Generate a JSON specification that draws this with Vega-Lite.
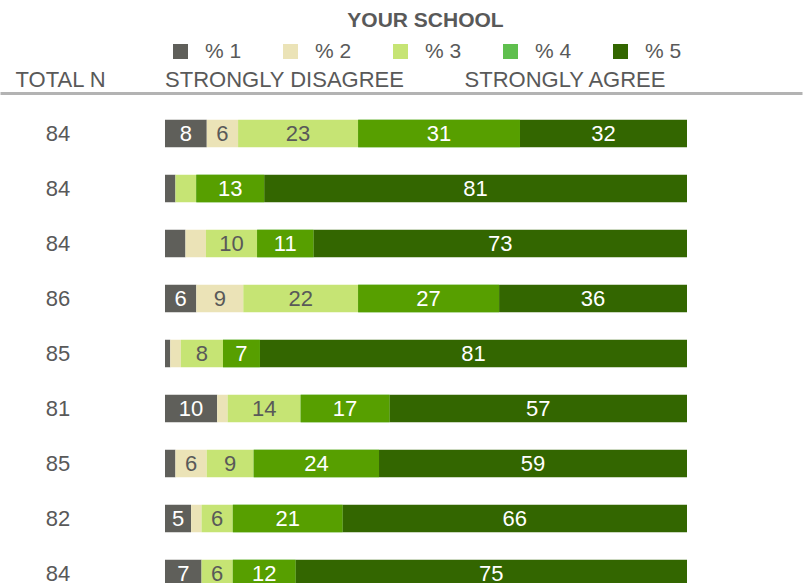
{
  "$schema": "https://vega.github.io/schema/vega-lite/v6.json",
  "width": 802,
  "height": 490,
  "autosize": {"type": "none"},
  "padding": {"top": 93, "left": 0, "right": 2, "bottom": 0},
  "config": {"font": "Liberation Sans", "view": {"stroke": null}},
  "title": {"text": "YOUR SCHOOL", "fontSize": 21, "fontWeight": "bold", "color": "#595959", "font": "Liberation Sans", "anchor": "middle", "frame": "group", "dx": 24.5, "offset": 10},
  "data": {"values": [
    {"row": 1, "n": 84, "level": "% 1", "pct": 8}, {"row": 1, "n": 84, "level": "% 2", "pct": 6}, {"row": 1, "n": 84, "level": "% 3", "pct": 23}, {"row": 1, "n": 84, "level": "% 4", "pct": 31}, {"row": 1, "n": 84, "level": "% 5", "pct": 32},
    {"row": 2, "n": 84, "level": "% 1", "pct": 2}, {"row": 2, "n": 84, "level": "% 2", "pct": 0}, {"row": 2, "n": 84, "level": "% 3", "pct": 4}, {"row": 2, "n": 84, "level": "% 4", "pct": 13}, {"row": 2, "n": 84, "level": "% 5", "pct": 81},
    {"row": 3, "n": 84, "level": "% 1", "pct": 4}, {"row": 3, "n": 84, "level": "% 2", "pct": 4}, {"row": 3, "n": 84, "level": "% 3", "pct": 10}, {"row": 3, "n": 84, "level": "% 4", "pct": 11}, {"row": 3, "n": 84, "level": "% 5", "pct": 73},
    {"row": 4, "n": 86, "level": "% 1", "pct": 6}, {"row": 4, "n": 86, "level": "% 2", "pct": 9}, {"row": 4, "n": 86, "level": "% 3", "pct": 22}, {"row": 4, "n": 86, "level": "% 4", "pct": 27}, {"row": 4, "n": 86, "level": "% 5", "pct": 36},
    {"row": 5, "n": 85, "level": "% 1", "pct": 1}, {"row": 5, "n": 85, "level": "% 2", "pct": 2}, {"row": 5, "n": 85, "level": "% 3", "pct": 8}, {"row": 5, "n": 85, "level": "% 4", "pct": 7}, {"row": 5, "n": 85, "level": "% 5", "pct": 81},
    {"row": 6, "n": 81, "level": "% 1", "pct": 10}, {"row": 6, "n": 81, "level": "% 2", "pct": 2}, {"row": 6, "n": 81, "level": "% 3", "pct": 14}, {"row": 6, "n": 81, "level": "% 4", "pct": 17}, {"row": 6, "n": 81, "level": "% 5", "pct": 57},
    {"row": 7, "n": 85, "level": "% 1", "pct": 2}, {"row": 7, "n": 85, "level": "% 2", "pct": 6}, {"row": 7, "n": 85, "level": "% 3", "pct": 9}, {"row": 7, "n": 85, "level": "% 4", "pct": 24}, {"row": 7, "n": 85, "level": "% 5", "pct": 59},
    {"row": 8, "n": 82, "level": "% 1", "pct": 5}, {"row": 8, "n": 82, "level": "% 2", "pct": 2}, {"row": 8, "n": 82, "level": "% 3", "pct": 6}, {"row": 8, "n": 82, "level": "% 4", "pct": 21}, {"row": 8, "n": 82, "level": "% 5", "pct": 66},
    {"row": 9, "n": 84, "level": "% 1", "pct": 7}, {"row": 9, "n": 84, "level": "% 2", "pct": 0}, {"row": 9, "n": 84, "level": "% 3", "pct": 6}, {"row": 9, "n": 84, "level": "% 4", "pct": 12}, {"row": 9, "n": 84, "level": "% 5", "pct": 75}
  ]},
  "transform": [
    {"stack": "pct", "groupby": ["row"], "sort": [{"field": "level", "order": "ascending"}], "offset": "normalize", "as": ["x0", "x1"]},
    {"calculate": "(datum.x0 + datum.x1) / 2", "as": "xm"}
  ],
  "layer": [
    {
      "mark": {"type": "bar", "height": 27.5},
      "encoding": {
        "x": {"field": "x0", "type": "quantitative", "scale": {"domain": [-0.31609, 1.22031], "nice": false, "zero": false, "padding": 0},
          "axis": {"orient": "top", "values": [-0.201, 0.228, 0.7653], "labelExpr": "datum.value < 0 ? 'TOTAL N' : (datum.value < 0.5 ? 'STRONGLY DISAGREE' : 'STRONGLY AGREE')", "ticks": false, "grid": false, "domain": true, "domainColor": "#b3b3b3", "domainWidth": 3, "labelFontSize": 22, "labelColor": "#595959", "labelPadding": 2, "labelLimit": 500, "title": null, "labelFlush": false, "labelOverlap": false, "labelBound": false}},
        "x2": {"field": "x1"},
        "y": {"field": "row", "type": "quantitative", "scale": {"domain": [0.2636, 9.1727], "reverse": true, "nice": false, "zero": false, "padding": 0}, "axis": null},
        "color": {"field": "level", "type": "nominal", "scale": {"domain": ["% 1", "% 2", "% 3", "% 4", "% 5"], "range": ["#5f5f5a", "#ebe3b7", "#c6e474", "#5fbf4e", "#336600"]},
          "legend": {"orient": "none", "legendX": 170, "legendY": -52, "direction": "horizontal", "gridAlign": "none", "title": null, "symbolType": "square", "symbolSize": 225, "symbolStrokeWidth": 0, "labelFontSize": 21, "labelColor": "#595959", "labelOffset": 14, "columnPadding": 38, "padding": 0, "labelLimit": 300, "labelExpr": "datum.label == '% 1' ? '% 1\u00a0\u00a0\u00a0' : datum.label"}}
      }
    },
    {
      "transform": [{"filter": "datum.level == '% 4'"}],
      "mark": {"type": "bar", "height": 27.5, "color": "#579f00"},
      "encoding": {
        "x": {"field": "x0", "type": "quantitative"},
        "x2": {"field": "x1"},
        "y": {"field": "row", "type": "quantitative"}
      }
    },
    {
      "transform": [{"filter": "datum.pct >= 5"}],
      "mark": {"type": "text", "fontSize": 22, "baseline": "middle", "align": "center"},
      "encoding": {
        "x": {"field": "xm", "type": "quantitative"},
        "y": {"field": "row", "type": "quantitative"},
        "text": {"field": "pct", "type": "quantitative"},
        "fill": {"condition": {"test": "datum.level == '% 2' || datum.level == '% 3'", "value": "#595959"}, "value": "#ffffff"}
      }
    },
    {
      "transform": [{"filter": "datum.level == '% 1'"}],
      "mark": {"type": "text", "fontSize": 22, "baseline": "middle", "align": "center", "color": "#595959"},
      "encoding": {
        "x": {"datum": -0.205, "type": "quantitative"},
        "y": {"field": "row", "type": "quantitative"},
        "text": {"field": "n", "type": "quantitative"}
      }
    }
  ]
}
